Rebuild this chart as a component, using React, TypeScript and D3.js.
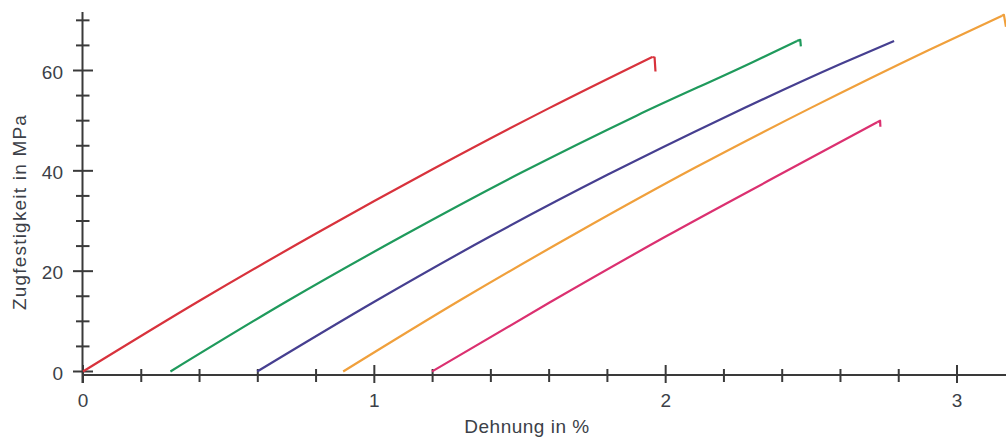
import React, { useRef, useEffect } from 'react';
import * as d3 from 'd3';

// Dehnung (%) / Zugfestigkeit (MPa) per Probe
const redStrain = [0, 0.4, 0.8, 1.2, 1.6, 1.954, 1.962, 1.965];
const redStress = [0, 14.1, 27.5, 40.3, 52.5, 62.7, 62.6, 59.8];

const greenStrain = [0.3, 0.7, 1.1, 1.5, 1.9, 2.3, 2.451, 2.462, 2.464];
const greenStress = [0, 14.0, 27.1, 39.5, 51.0, 61.7, 65.9, 66.1, 64.8];

const blueStrain = [0.598, 1.0, 1.4, 1.8, 2.2, 2.6, 2.784];
const blueStress = [0, 13.9, 27.0, 39.2, 50.6, 61.3, 65.9];

const orangeStrain = [0.893, 1.3, 1.7, 2.1, 2.5, 2.9, 3.154, 3.161, 3.168];
const orangeStress = [0, 14.4, 27.8, 40.6, 52.6, 64.0, 70.9, 71.1, 68.7];

const pinkStrain = [1.198, 1.6, 2.0, 2.4, 2.726, 2.736, 2.737];
const pinkStress = [0, 13.7, 26.9, 39.5, 49.7, 50.0, 48.8];

// index where the break-off hook at the end of each curve begins
const hookStart = [5, 6, 6, 6, 4];

const seriesColors = ['#d8323c', '#1f9a5c', '#463f90', '#f0a03c', '#db3070'];

const xMajorTicks = [0, 1, 2, 3];
const xMinorTicks = [0.2, 0.4, 0.6, 0.8, 1.2, 1.4, 1.6, 1.8, 2.2, 2.4, 2.6, 2.8];
const yMajorTicks = [0, 20, 40, 60];
const yMinorTicks = [5, 10, 15, 25, 30, 35, 45, 50, 55, 65, 70];

const xLabel = 'Dehnung in %';
const yLabel = 'Zugfestigkeit in MPa';

const App = () => {
  const chartRef = useRef<SVGSVGElement | null>(null);

  useEffect(() => {
    const width = 1006;
    const axisColor = '#3a3a3a';
    const textColor = '#3c3f48';
    const font = '"Liberation Sans", Arial, sans-serif';

    const svg = d3.select(chartRef.current);
    svg.selectAll('*').remove();

    const x = d3.scaleLinear().domain([0, 3]).range([83, 957]);
    const y = d3.scaleLinear().domain([0, 60]).range([371.5, 70.5]);

    const xAxisY = 375;
    const yAxisX = 82.5;

    // axis lines
    svg.append('line')
      .attr('x1', yAxisX).attr('x2', width)
      .attr('y1', xAxisY).attr('y2', xAxisY)
      .attr('stroke', axisColor).attr('stroke-width', 2);
    svg.append('line')
      .attr('x1', yAxisX).attr('x2', yAxisX)
      .attr('y1', 12).attr('y2', 383)
      .attr('stroke', axisColor).attr('stroke-width', 2);

    // x ticks
    svg.selectAll('.xmaj').data(xMajorTicks).enter().append('line')
      .attr('x1', d => x(d)).attr('x2', d => x(d))
      .attr('y1', xAxisY - 10).attr('y2', xAxisY + 8)
      .attr('stroke', axisColor).attr('stroke-width', 2);
    svg.selectAll('.xmin').data(xMinorTicks).enter().append('line')
      .attr('x1', d => x(d)).attr('x2', d => x(d))
      .attr('y1', xAxisY - 6).attr('y2', xAxisY + 7)
      .attr('stroke', axisColor).attr('stroke-width', 2);

    // y ticks
    svg.selectAll('.ymaj').data(yMajorTicks).enter().append('line')
      .attr('x1', yAxisX - 9.5).attr('x2', yAxisX + 10.5)
      .attr('y1', d => y(d)).attr('y2', d => y(d))
      .attr('stroke', axisColor).attr('stroke-width', 2);
    svg.selectAll('.ymin').data(yMinorTicks).enter().append('line')
      .attr('x1', yAxisX - 6.5).attr('x2', yAxisX + 7)
      .attr('y1', d => y(d)).attr('y2', d => y(d))
      .attr('stroke', axisColor).attr('stroke-width', 2);

    // tick labels
    svg.selectAll('.xlab').data(xMajorTicks).enter().append('text')
      .attr('x', d => x(d)).attr('y', 407)
      .attr('text-anchor', 'middle')
      .attr('font-family', font).attr('font-size', 19)
      .attr('fill', textColor)
      .text(d => d);
    svg.selectAll('.ylab').data(yMajorTicks).enter().append('text')
      .attr('x', 63).attr('y', d => y(d) + 8)
      .attr('text-anchor', 'end')
      .attr('font-family', font).attr('font-size', 19)
      .attr('fill', textColor)
      .text(d => d);

    // axis titles
    svg.append('text')
      .attr('x', 527).attr('y', 433)
      .attr('text-anchor', 'middle')
      .attr('font-family', font).attr('font-size', 19)
      .attr('letter-spacing', 0.5)
      .attr('fill', textColor)
      .text(xLabel);
    svg.append('text')
      .attr('transform', 'translate(26, 212) rotate(-90)')
      .attr('text-anchor', 'middle')
      .attr('font-family', font).attr('font-size', 19)
      .attr('letter-spacing', 1.2)
      .attr('fill', textColor)
      .text(yLabel);

    // curves
    const series = [
      [redStrain, redStress],
      [greenStrain, greenStress],
      [blueStrain, blueStress],
      [orangeStrain, orangeStress],
      [pinkStrain, pinkStress],
    ];

    const body = d3.line<[number, number]>()
      .x(d => x(d[0]))
      .y(d => y(d[1]))
      .curve(d3.curveMonotoneX);

    const hook = d3.line<[number, number]>()
      .x(d => x(d[0]))
      .y(d => y(d[1]));

    series.forEach(([xs, ys], i) => {
      const pts = xs.map((v, j) => [v, ys[j]] as [number, number]);
      const h = hookStart[i];
      svg.append('path')
        .attr('d', body(pts.slice(0, h + 1)))
        .attr('fill', 'none')
        .attr('stroke', seriesColors[i])
        .attr('stroke-width', 2.2)
        .attr('stroke-linejoin', 'round');
      if (h < pts.length - 1) {
        svg.append('path')
          .attr('d', hook(pts.slice(h)))
          .attr('fill', 'none')
          .attr('stroke', seriesColors[i])
          .attr('stroke-width', 2.2)
          .attr('stroke-linejoin', 'round');
      }
    });
  }, []);

  return (
    <svg
      ref={chartRef}
      width={1006}
      height={440}
      style={{ position: 'absolute', left: 0, top: 0, background: '#fff' }}
    />
  );
};

export default App;
